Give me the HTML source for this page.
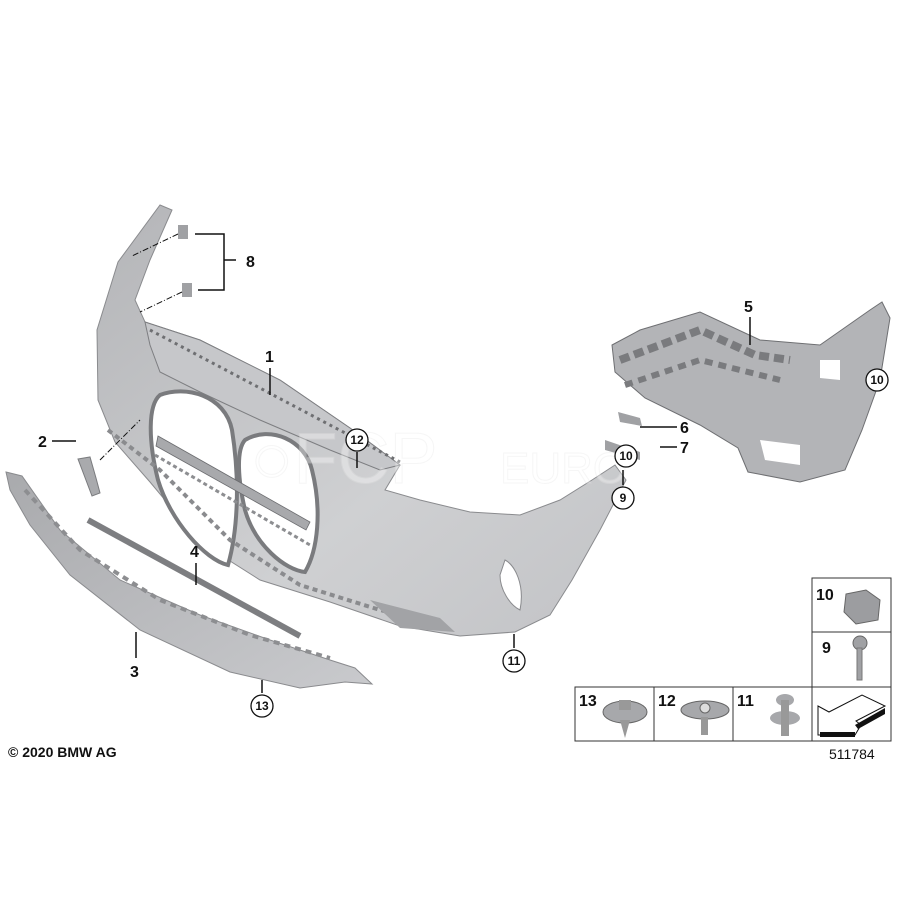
<!DOCTYPE html>
<html><head><meta charset="utf-8"><style>
html,body{margin:0;padding:0;background:#fff;width:900px;height:900px;overflow:hidden}
svg{display:block}
text{font-family:"Liberation Sans",Arial,sans-serif;font-weight:bold;fill:#111}
.c{font-size:12px}
</style></head><body>
<svg width="900" height="900" viewBox="0 0 900 900" xmlns="http://www.w3.org/2000/svg">
<defs>
<linearGradient id="g1" x1="0" y1="0" x2="1" y2="1">
<stop offset="0" stop-color="#b4b5b8"/><stop offset="0.6" stop-color="#cfd0d2"/><stop offset="1" stop-color="#c2c3c6"/>
</linearGradient>
<linearGradient id="g3" x1="0" y1="0" x2="1" y2="1">
<stop offset="0" stop-color="#a9aaad"/><stop offset="1" stop-color="#c9cacd"/>
</linearGradient>
</defs>
<path d="M160,205 L172,210 L150,260 L135,300 L145,322 L200,340 L280,380 L350,428 L400,465 L385,490 L420,500 L470,512 L520,515 L560,500 L592,480 L615,465 L626,480 L600,530 L572,580 L550,615 L515,632 L460,636 L400,626 L330,602 L260,580 L200,542 L150,482 L115,442 L98,400 L97,330 L118,262 Z" fill="url(#g1)" stroke="#8a8b8e" stroke-width="1"/>
<path d="M145,322 L200,340 L280,380 L350,428 L400,465 L380,470 L330,450 L260,420 L200,392 L160,372 L150,345 Z" fill="#c6c7ca" stroke="#7d7e81" stroke-width="1"/>
<path d="M150,330 L400,462" stroke="#6e6f72" stroke-width="3" stroke-dasharray="3,4" fill="none"/>
<path d="M160,395 C185,385 225,395 232,430 C240,480 238,530 228,565 C205,560 170,520 158,480 C148,440 148,405 160,395 Z" fill="#fff" stroke="#7a7b7e" stroke-width="4"/>
<path d="M245,440 C270,425 305,440 312,470 C322,510 318,550 305,572 C285,570 255,545 245,510 C238,480 236,450 245,440 Z" fill="#fff" stroke="#7a7b7e" stroke-width="4"/>
<path d="M158,436 L310,522 L306,530 L156,446 Z" fill="#a8a9ac" stroke="#6b6c6f" stroke-width="0.8"/>
<path d="M155,455 L310,545" stroke="#8d8e91" stroke-width="3" stroke-dasharray="4,3"/>
<path d="M108,430 L160,470 L230,540 L300,585 L380,610 L440,625" stroke="#8a8b8e" stroke-width="4" stroke-dasharray="5,4" fill="none"/>
<path d="M505,560 C515,565 525,585 520,610 C510,605 500,590 500,575 Z" fill="#fff" stroke="#8a8b8e"/>
<path d="M370,600 L440,618 L455,632 L400,628 Z" fill="#a2a3a6"/>
<path d="M6,472 L22,476 L60,530 L120,580 L200,615 L270,640 L330,660 L355,668 L372,684 L345,682 L300,688 L230,672 L140,630 L70,575 L30,525 L10,490 Z" fill="url(#g3)" stroke="#8a8b8e"/>
<path d="M25,490 L80,550 L160,600 L250,635 L330,658" stroke="#8d8e91" stroke-width="4" stroke-dasharray="6,5" fill="none"/>
<path d="M88,520 L300,636" stroke="#7d7e81" stroke-width="6"/>
<path d="M78,459 L90,457 L96,478 L100,493 L92,496 Z" fill="#a9aaad" stroke="#7a7b7e"/>
<rect x="178" y="225" width="10" height="14" fill="#a0a1a4"/>
<rect x="182" y="283" width="10" height="14" fill="#a0a1a4"/>
<path d="M612,345 L640,330 L700,312 L760,340 L820,345 L870,310 L882,302 L890,318 L880,380 L862,430 L845,470 L800,482 L748,472 L738,448 L700,425 L645,398 L615,372 Z" fill="#b3b4b7" stroke="#6e6f72"/>
<path d="M620,360 L700,330 L755,355 L790,360" stroke="#7a7b7e" stroke-width="8" fill="none" stroke-dasharray="10,5"/>
<path d="M625,385 L700,360 L780,380" stroke="#7a7b7e" stroke-width="6" fill="none" stroke-dasharray="8,6"/>
<path d="M820,360 L840,360 L840,380 L820,378 Z M760,440 L800,445 L800,465 L765,460 Z" fill="#fff"/>
<path d="M618,412 L640,418 L642,426 L620,422 Z" fill="#a0a1a4"/>
<path d="M605,440 L640,452 L640,460 L605,450 Z" fill="#a0a1a4"/>
<text x="250" y="483" style="font-size:72px;font-weight:normal;fill:#fff;opacity:0.35;stroke:#e6e6e6;stroke-width:1">○FCP</text>
<text x="500" y="483" style="font-size:44px;font-weight:normal;fill:#fff;opacity:0.35;stroke:#e6e6e6;stroke-width:1">EURO</text>
<g stroke="#111" stroke-width="1.5" fill="none">
<path d="M195,234 L224,234 L224,290 L198,290 M224,260 L236,260"/>
<path d="M270,368 L270,395"/>
<path d="M52,441 L76,441"/>
<path d="M136,658 L136,632"/>
<path d="M196,563 L196,585"/>
<path d="M750,317 L750,345"/>
<path d="M514,648 L514,634"/>
<path d="M262,693 L262,680"/>
<path d="M357,452 L357,468"/>
<path d="M640,427 L677,427 M660,447 L677,447"/>
<path d="M623,485 L623,470"/>
</g>
<g stroke="#111" stroke-width="1" stroke-dasharray="6,2,1,2" fill="none">
<path d="M178,234 L132,256 M182,292 L140,312 M100,460 L140,420"/>
</g>
<text x="246" y="267" font-size="16">8</text>
<text x="265" y="362" font-size="16">1</text>
<text x="38" y="447" font-size="16">2</text>
<text x="130" y="677" font-size="16">3</text>
<text x="190" y="557" font-size="16">4</text>
<text x="744" y="312" font-size="16">5</text>
<text x="680" y="433" font-size="16">6</text>
<text x="680" y="453" font-size="16">7</text>
<g fill="#fff" stroke="#111" stroke-width="1.3">
<circle cx="357" cy="440" r="11"/><circle cx="626" cy="456" r="11"/><circle cx="623" cy="498" r="11"/>
<circle cx="514" cy="661" r="11"/><circle cx="262" cy="706" r="11"/><circle cx="877" cy="380" r="11"/>
</g>
<text class="c" x="357" y="444" text-anchor="middle">12</text>
<text class="c" x="626" y="460" text-anchor="middle">10</text>
<text class="c" x="623" y="502" text-anchor="middle">9</text>
<text class="c" x="514" y="665" text-anchor="middle">11</text>
<text class="c" x="262" y="710" text-anchor="middle">13</text>
<text class="c" x="877" y="384" text-anchor="middle">10</text>
<g stroke="#333" stroke-width="1" fill="none">
<rect x="812" y="578" width="79" height="163"/>
<path d="M812,632 L891,632 M812,687 L891,687"/>
<rect x="575" y="687" width="316" height="54"/>
<path d="M654,687 L654,741 M733,687 L733,741"/>
</g>
<text x="816" y="600" font-size="16">10</text>
<text x="822" y="653" font-size="16">9</text>
<text x="579" y="706" font-size="16">13</text>
<text x="658" y="706" font-size="16">12</text>
<text x="737" y="706" font-size="16">11</text>
<path d="M846,594 L866,590 L880,600 L878,620 L856,624 L844,612 Z" fill="#9c9da0" stroke="#666"/>
<circle cx="860" cy="643" r="7" fill="#a0a1a4" stroke="#666"/>
<rect x="857" y="648" width="5" height="32" fill="#a0a1a4" stroke="#777"/>
<ellipse cx="625" cy="712" rx="22" ry="11" fill="#a7a8ab" stroke="#666"/>
<rect x="619" y="700" width="12" height="10" fill="#999"/>
<path d="M620,720 L630,720 L625,738 Z" fill="#999"/>
<ellipse cx="705" cy="710" rx="24" ry="9" fill="#a7a8ab" stroke="#666"/>
<circle cx="705" cy="708" r="5" fill="#ddd" stroke="#666"/>
<rect x="701" y="717" width="7" height="18" fill="#999"/>
<ellipse cx="785" cy="700" rx="9" ry="6" fill="#a7a8ab"/>
<ellipse cx="785" cy="718" rx="15" ry="7" fill="#a7a8ab"/>
<rect x="781" y="700" width="8" height="36" fill="#999"/>
<path d="M818,735 L818,706 L829,712 L862,695 L885,706 L856,721 L861,725 L855,735 Z" fill="#fff" stroke="#111"/>
<path d="M820,732 L855,732 L855,737 L820,737 Z M855,725 L885,708 L885,714 L858,729 Z" fill="#111"/>
<text x="829" y="759" font-size="14" style="font-weight:normal">511784</text>
<text x="8" y="757" font-size="14">© 2020 BMW AG</text>
</svg>
</body></html>
